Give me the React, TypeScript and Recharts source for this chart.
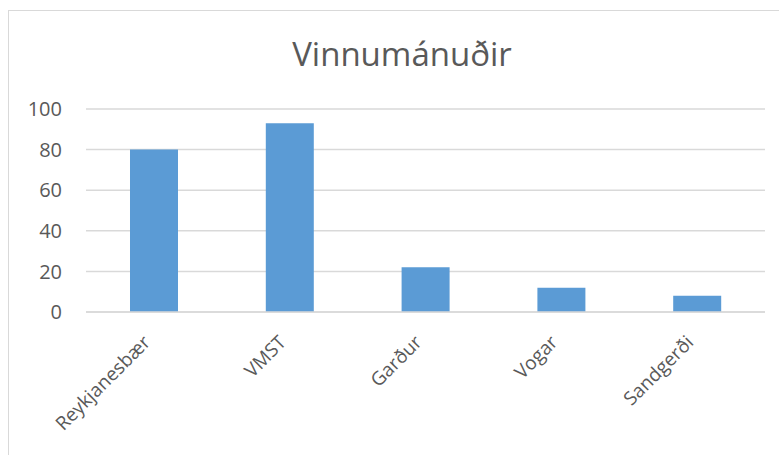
import React from 'react';
import { BarChart, Bar, XAxis, YAxis, CartesianGrid } from 'recharts';

const categories = ['Reykjanesbær', 'VMST', 'Garður', 'Vogar', 'Sandgerði'];
const values = [80, 93, 22, 12, 8];
const yTicks = [0, 20, 40, 60, 80, 100];
const title = 'Vinnumánuðir';

const data = categories.map((name, i) => ({ name, value: values[i] }));

const FONT = '"Open Sans", sans-serif';
const TEXT = '#595959';

const XTick = (props: any) => {
  const { x, y, payload } = props;
  return (
    <g transform={`translate(${x - 12},${y + 14})`}>
      <text
        x={0}
        y={0}
        dy="0.71em"
        textAnchor="end"
        transform="rotate(-45)"
        fill={TEXT}
        fontSize={19}
        fontFamily={FONT}
      >
        {payload.value}
      </text>
    </g>
  );
};

export default function App() {
  return (
    <div style={{ position: 'absolute', left: 0, top: 0, width: 779, height: 455, background: '#fff', overflow: 'hidden' }}>
      <div
        style={{
          position: 'absolute',
          left: 8,
          top: 10,
          width: 800,
          height: 480,
          border: '1px solid #d9d9d9',
          boxSizing: 'border-box',
        }}
      />
      <div
        style={{
          position: 'absolute',
          left: 0,
          top: 30,
          width: 804,
          textAlign: 'center',
          fontFamily: FONT,
          fontSize: 33,
          color: TEXT,
          lineHeight: '48px',
        }}
      >
        {title}
      </div>
      <div style={{ position: 'absolute', left: 0, top: 0 }}>
        <BarChart
          width={779}
          height={455}
          data={data}
          margin={{ top: 109, right: 14, bottom: 0, left: 0 }}
          barCategoryGap="32.4%"
        >
          <CartesianGrid vertical={false} stroke="#d9d9d9" strokeWidth={1.5} />
          <XAxis
            dataKey="name"
            axisLine={{ stroke: '#d9d9d9', strokeWidth: 1.5 }}
            tickLine={false}
            height={143}
            interval={0}
            tick={<XTick />}
          />
          <YAxis
            domain={[0, 100]}
            ticks={yTicks}
            axisLine={false}
            tickLine={false}
            width={86}
            tickMargin={18}
            tick={{ fill: TEXT, fontSize: 20, fontFamily: FONT }}
          />
          <Bar dataKey="value" fill="#5b9bd5" isAnimationActive={false} />
        </BarChart>
      </div>
    </div>
  );
}
